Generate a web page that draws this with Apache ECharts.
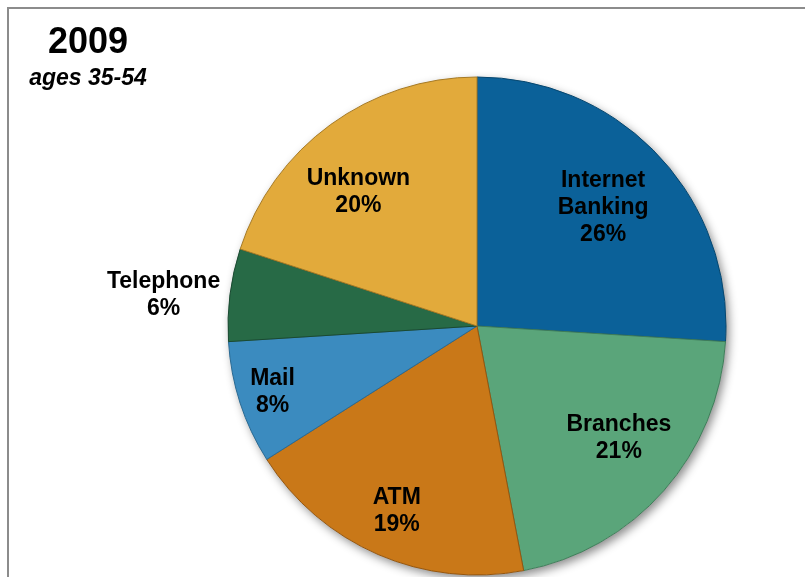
<!DOCTYPE html>
<html>
<head>
<meta charset="utf-8">
<script src="https://cdn.jsdelivr.net/npm/echarts@6/dist/echarts.min.js"></script>
<style>
html,body{margin:0;padding:0;background:#fff;}
#chart{width:805px;height:577px;}
</style>
</head>
<body>
<div id="chart"></div>
<script>
// ---- data ----
var categories = ['Internet\nBanking', 'Branches', 'ATM', 'Mail', 'Telephone', 'Unknown'];
var values = [26, 21, 19, 8, 6, 20];
var titleText = '2009';
var subtitleText = 'ages 35-54';

// ---- styles ----
var colors = ['#0b6199', '#5aa57a', '#c97818', '#3b8bbf', '#276a46', '#e2aa3b'];
var borders = ['#07476f', '#3f7d59', '#94560f', '#2a6a93', '#1a4a31', '#a67a25'];
// label anchor radius (px from centre) and angle tweak (deg) per slice
var labelRadius = [173, 181, 202, 215, 315, 179];
var labelAngleAdj = [0, -3, 0, 0, -1.5, -5.5];

var CX = 477, CY = 326, R = 249;

var total = values.reduce(function (a, b) { return a + b; }, 0);
var mids = [];
(function () {
  var acc = 0;
  for (var i = 0; i < values.length; i++) {
    mids.push((acc + values[i] / 2) / total * 360);
    acc += values[i];
  }
})();

var chart = echarts.init(document.getElementById('chart'), null, { renderer: 'canvas' });

var dataItems = categories.map(function (c, i) {
  return {
    name: c,
    value: values[i],
    itemStyle: { color: colors[i], borderColor: borders[i] }
  };
});

chart.setOption({
  animation: false,
  backgroundColor: '#ffffff',
  graphic: [
    {
      type: 'rect',
      shape: { x: 8, y: 8, width: 830, height: 600 },
      style: { fill: 'none', stroke: '#8c8c8c', lineWidth: 2 },
      z: 0
    },
    {
      type: 'text',
      x: 88, y: 43,
      style: { text: titleText, font: 'bold 36px "Liberation Sans", Arial, sans-serif', fill: '#000', align: 'center', verticalAlign: 'middle' }
    },
    {
      type: 'text',
      x: 88, y: 79,
      style: { text: subtitleText, font: 'italic bold 23px "Liberation Sans", Arial, sans-serif', fill: '#000', align: 'center', verticalAlign: 'middle' }
    }
  ],
  series: [
    {
      type: 'pie',
      silent: true,
      center: [CX, CY],
      radius: [0, R],
      label: { show: false },
      labelLine: { show: false },
      itemStyle: {
        color: '#ffffff',
        shadowBlur: 10,
        shadowOffsetX: 3,
        shadowOffsetY: 4,
        shadowColor: 'rgba(0,0,0,0.45)'
      },
      data: [{ value: 1, name: 'bg' }],
      z: 1
    },
    {
      type: 'pie',
      center: [CX, CY],
      radius: [0, R],
      startAngle: 90,
      clockwise: true,
      itemStyle: { borderWidth: 1 },
      label: {
        show: true,
        position: 'inside',
        formatter: function (p) { return p.name + '\n' + p.value + '%'; },
        color: '#000',
        fontFamily: '"Liberation Sans", Arial, sans-serif',
        fontWeight: 'bold',
        fontSize: 23,
        lineHeight: 27,
        align: 'center'
      },
      labelLine: { show: false },
      labelLayout: function (params) {
        var i = params.dataIndex;
        var a = (mids[i] + labelAngleAdj[i]) * Math.PI / 180;
        var r = labelRadius[i];
        return {
          x: CX + r * Math.sin(a),
          y: CY - r * Math.cos(a),
          align: 'center',
          verticalAlign: 'middle'
        };
      },
      data: dataItems,
      z: 2
    }
  ]
});
</script>
</body>
</html>
